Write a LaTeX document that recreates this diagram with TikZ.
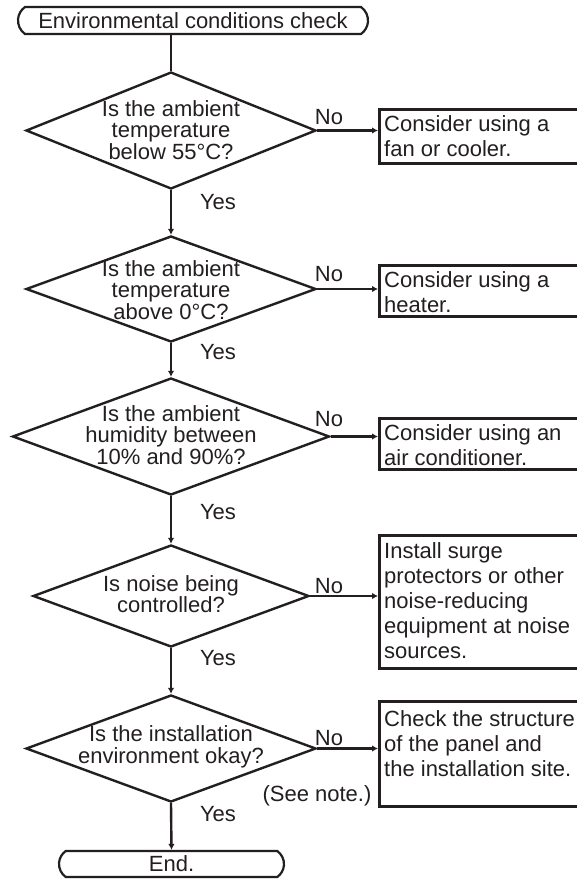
\documentclass[tikz,border=0pt]{standalone}
\usepackage{fontspec}
\setmainfont{Liberation Sans}
\usetikzlibrary{shapes.geometric,shapes.misc,arrows.meta}
\definecolor{ink}{HTML}{231F20}
\tikzset{
  every node/.style={text=ink, font=\fontsize{22}{21.5}\selectfont},
  dia/.style={diamond, draw=ink, line width=2.4pt, inner sep=0pt},
  dtext/.style={align=center, inner sep=0pt, font=\fontsize{22}{21.5}\selectfont},
  term/.style={rounded rectangle, rounded rectangle arc length=110, draw=ink, line width=2.2pt, inner sep=0pt},
  boxn/.style={rectangle, draw=ink, line width=2.6pt, anchor=north west, minimum width=260pt, inner sep=0pt},
  btext/.style={anchor=north west, align=left, inner sep=0pt, font=\fontsize{22}{25}\selectfont},
  lab/.style={inner sep=0pt},
  conn/.style={draw=ink, line width=2.4pt},
  arr/.style={conn, -{Latex[length=6pt,width=6.5pt]}}
}
\begin{document}
\begin{tikzpicture}[x=1pt,y=-1pt]
\useasboundingbox (0,0) rectangle (577,879);
\clip (0,0) rectangle (577,879);
\fill[white] (0,0) rectangle (577,879);

% terminators
\node[term, minimum width=350pt, minimum height=27pt] (st) at (193,20.5) {Environmental conditions check};
\node[term, minimum width=225pt, minimum height=26pt] (en) at (171.5,864) {End.};

% diamonds
\node[dia, minimum width=290pt, minimum height=117pt] (d1) at (171,130.5) {};
\node[dia, minimum width=290pt, minimum height=106pt] (d2) at (171,289) {};
\node[dia, minimum width=317pt, minimum height=117pt] (d3) at (171,436.5) {};
\node[dia, minimum width=276pt, minimum height=102pt] (d4) at (171,596) {};
\node[dia, minimum width=290pt, minimum height=107pt] (d5) at (171,748.5) {};

\node[dtext] (q1) at (171,130) {Is the ambient\\temperature\\below 55°C?};
\node[dtext] (q2) at (171,290) {Is the ambient\\temperature\\above 0°C?};
\node[dtext] (q3) at (171,435) {Is the ambient\\humidity between\\10\% and 90\%?};
\node[dtext] (q4) at (171,594) {Is noise being\\controlled?};
\node[dtext] (q5) at (171,747) {Is the installation\\environment okay?};

% boxes
\node[boxn, minimum height=54pt] (b1) at (378,108) {};
\node[boxn, minimum height=51pt] (b2) at (378,264) {};
\node[boxn, minimum height=51pt] (b3) at (378,417) {};
\node[boxn, minimum height=133pt] (b4) at (378,534) {};
\node[boxn, minimum height=105pt] (b5) at (378,700) {};

\node[btext] (t1) at ([shift={(6,7.5)}]b1.north west) {Consider using a\\fan or cooler.};
\node[btext] (t2) at ([shift={(6,7.5)}]b2.north west) {Consider using a\\heater.};
\node[btext] (t3) at ([shift={(6,7.5)}]b3.north west) {Consider using an\\air conditioner.};
\node[btext] (t4) at ([shift={(6,8.5)}]b4.north west) {Install surge\\protectors or other\\noise-reducing\\equipment at noise\\sources.};
\node[btext] (t5) at ([shift={(6,10)}]b5.north west) {Check the structure\\of the panel and\\the installation site.};

% labels
\node[lab] (n1) at (329,117) {No};
\node[lab] (n2) at (329,274) {No};
\node[lab] (n3) at (329,419) {No};
\node[lab] (n4) at (329,586) {No};
\node[lab] (n5) at (329,738) {No};
\node[lab] (y1) at (218,202) {Yes};
\node[lab] (y2) at (218,352) {Yes};
\node[lab] (y3) at (218,512) {Yes};
\node[lab] (y4) at (218,658) {Yes};
\node[lab] (y5) at (218,814) {Yes};
\node[lab] (note) at (317,796) {(See note.)};

% connectors
\draw[conn] (d1.north |- st.south) -- (d1.north);
\draw[arr] (d1.south) -- (d2.north);
\draw[arr] (d2.south) -- (d3.north);
\draw[arr] (d3.south) -- (d4.north);
\draw[arr] (d4.south) -- (d5.north);
\draw[arr] (d5.south) -- (en.north);
\draw[arr] (d1.east) -- (b1.west |- d1.east);
\draw[arr] (d2.east) -- (b2.west |- d2.east);
\draw[arr] (d3.east) -- (b3.west |- d3.east);
\draw[arr] (d4.east) -- (b4.west |- d4.east);
\draw[arr] (d5.east) -- (b5.west |- d5.east);
\end{tikzpicture}
\end{document}
